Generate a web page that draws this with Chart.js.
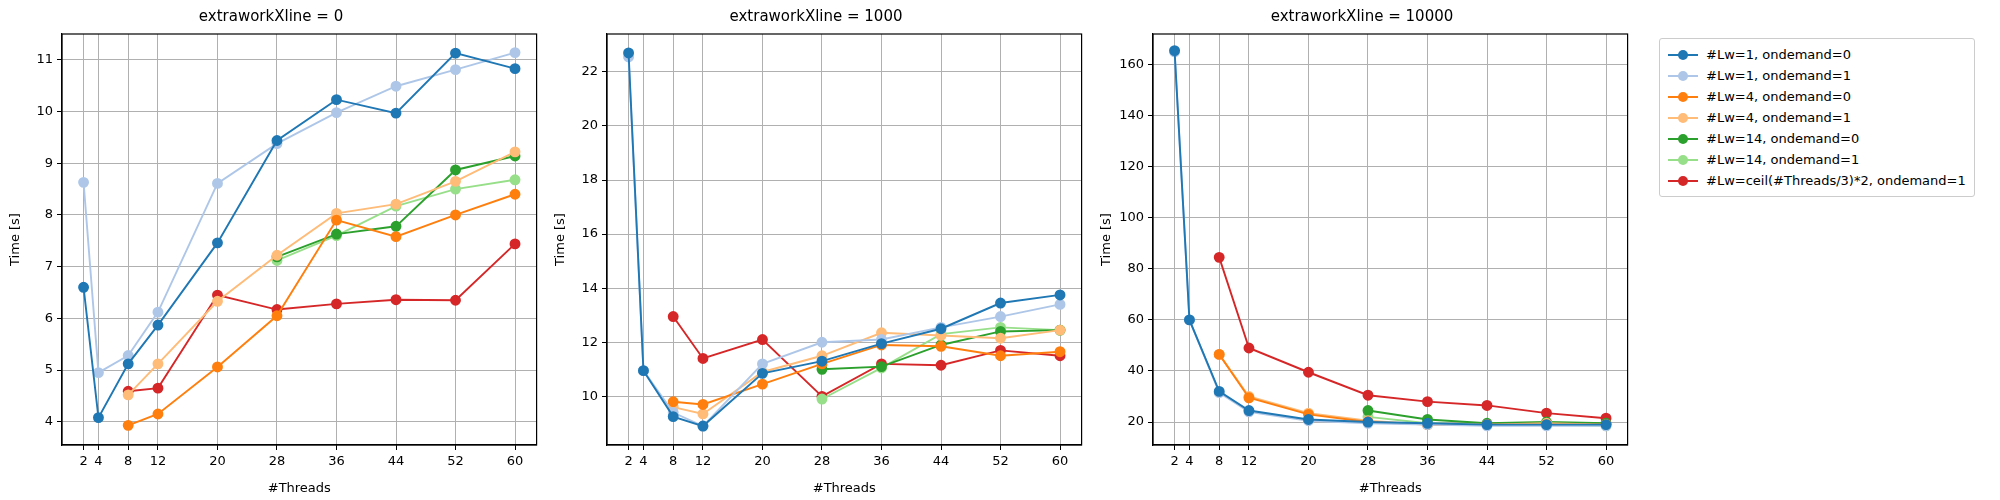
<!DOCTYPE html>
<html lang="en">
<head>
<meta charset="UTF-8">
<title>extraworkXline</title>
<script src="https://cdn.jsdelivr.net/npm/chart.js"></script>
<style>
  body { margin: 0; background: #fff; font-family: "DejaVu Sans", sans-serif; }
  #wrap { position: relative; width: 2000px; height: 500px; }
  .panel { position: absolute; top: 0; height: 500px; }
  #legend { position: absolute; left: 1659px; top: 38px; border: 1px solid #ccc; border-radius: 3px;
            padding: 5px 8px; font-size: 13px; background: #fff; }
  #legend div { display: flex; align-items: center; height: 21px; white-space: nowrap; }
  #legend span.sw { position: relative; width: 30px; height: 10px; margin-right: 8px; }
  #legend span.sw i { position: absolute; left: 0; right: 0; top: 4px; height: 2px; }
  #legend span.sw b { position: absolute; left: 10px; top: 0; width: 10px; height: 10px; border-radius: 50%; }
</style>
</head>
<body>
<div id="wrap">
  <div class="panel" id="p0"><canvas id="c0"></canvas></div>
  <div class="panel" id="p1"><canvas id="c1"></canvas></div>
  <div class="panel" id="p2"><canvas id="c2"></canvas></div>
  <div id="legend"></div>
</div>
<script>
const threads = [2, 4, 8, 12, 20, 28, 36, 44, 52, 60];
const seriesNames = ["#Lw=1, ondemand=0", "#Lw=1, ondemand=1", "#Lw=4, ondemand=0", "#Lw=4, ondemand=1",
                     "#Lw=14, ondemand=0", "#Lw=14, ondemand=1", "#Lw=ceil(#Threads/3)*2, ondemand=1"];
const seriesColors = ["#1f77b4", "#aec7e8", "#ff7f0e", "#ffbb78", "#2ca02c", "#98df8a", "#d62728"];
const panelTitles = ["extraworkXline = 0", "extraworkXline = 1000", "extraworkXline = 10000"];

// extraworkXline = 0
const p0_lw1_od0 = [6.6, 4.08, 5.12, 5.87, 7.46, 9.44, 10.23, 9.97, 11.13, 10.83];
const p0_lw1_od1 = [8.63, 4.95, 5.28, 6.12, 8.61, 9.38, 9.98, 10.49, 10.81, 11.14];
const p0_lw4_od0 = [null, null, 3.93, 4.15, 5.06, 6.05, 7.9, 7.58, 8.0, 8.4];
const p0_lw4_od1 = [null, null, 4.52, 5.12, 6.33, 7.22, 8.03, 8.21, 8.65, 9.22];
const p0_lw14_od0 = [null, null, null, null, null, 7.19, 7.63, 7.78, 8.87, 9.14];
const p0_lw14_od1 = [null, null, null, null, null, 7.12, 7.6, 8.17, 8.5, 8.68];
const p0_ceil_od1 = [null, null, 4.59, 4.65, 6.45, 6.17, 6.28, 6.36, 6.35, 7.44];

// extraworkXline = 1000
const p1_lw1_od0 = [22.7, 10.95, 9.25, 8.9, 10.85, 11.3, 11.95, 12.5, 13.45, 13.75];
const p1_lw1_od1 = [22.55, 10.95, 9.4, 8.9, 11.2, 12.0, 12.1, 12.55, 12.95, 13.4];
const p1_lw4_od0 = [null, null, 9.8, 9.7, 10.45, 11.2, 11.9, 11.85, 11.5, 11.65];
const p1_lw4_od1 = [null, null, 9.6, 9.35, 10.9, 11.5, 12.35, 12.25, 12.15, 12.45];
const p1_lw14_od0 = [null, null, null, null, null, 11.0, 11.1, 11.9, 12.4, 12.45];
const p1_lw14_od1 = [null, null, null, null, null, 9.9, 11.05, 12.3, 12.55, 12.45];
const p1_ceil_od1 = [null, null, 12.95, 11.4, 12.1, 10.0, 11.2, 11.15, 11.7, 11.5];

// extraworkXline = 10000
const p2_lw1_od0 = [165.5, 60, 32, 24.5, 21, 20, 19.5, 19, 19, 19];
const p2_lw1_od1 = [165, 60, 31.5, 24, 20.5, 19.5, 19, 18.5, 18.5, 18.5];
const p2_lw4_od0 = [null, null, 46.5, 29.5, 23, 20, 19, 19, 19, 19];
const p2_lw4_od1 = [null, null, 46.5, 30, 23.5, 20.5, 19, 19, 19.5, 19];
const p2_lw14_od0 = [null, null, null, null, null, 24.5, 21, 19.5, 20, 19.5];
const p2_lw14_od1 = [null, null, null, null, null, 22, 19.5, 19, 19, 18.5];
const p2_ceil_od1 = [null, null, 84.5, 49, 39.5, 30.5, 28, 26.5, 23.5, 21.5];

const panelSeries = [
  [p0_lw1_od0, p0_lw1_od1, p0_lw4_od0, p0_lw4_od1, p0_lw14_od0, p0_lw14_od1, p0_ceil_od1],
  [p1_lw1_od0, p1_lw1_od1, p1_lw4_od0, p1_lw4_od1, p1_lw14_od0, p1_lw14_od1, p1_ceil_od1],
  [p2_lw1_od0, p2_lw1_od1, p2_lw4_od0, p2_lw4_od1, p2_lw14_od0, p2_lw14_od1, p2_ceil_od1]
];
const yTicks = [
  [4, 5, 6, 7, 8, 9, 10, 11],
  [10, 12, 14, 16, 18, 20, 22],
  [20, 40, 60, 80, 100, 120, 140, 160]
];
const yRanges = [[3.55, 11.5], [8.2, 23.4], [11, 172]];

// layout of plot areas (px)
const plotLefts = [62, 607, 1153];
const plotW = 475, plotTop = 35, plotBottom = 443;
const axisW = 58;

Chart.defaults.font.family = "'DejaVu Sans', sans-serif";
Chart.defaults.font.size = 13;
Chart.defaults.color = "#000";

for (let p = 0; p < 3; p++) {
  const div = document.getElementById("p" + p);
  div.style.left = (plotLefts[p] - axisW) + "px";
  div.style.width = (plotW + axisW + 6) + "px";

  const datasets = panelSeries[p].map((vals, i) => ({
    label: seriesNames[i],
    data: vals.map((v, k) => ({ x: threads[k], y: v })),
    borderColor: seriesColors[i],
    backgroundColor: seriesColors[i],
    borderWidth: 1.9,
    pointRadius: 4.5,
    pointHoverRadius: 4.5,
    spanGaps: false
  }));

  new Chart(document.getElementById("c" + p), {
    type: "line",
    data: { datasets },
    options: {
      responsive: true,
      maintainAspectRatio: false,
      animation: false,
      layout: { padding: { top: 0, right: 5, bottom: 0, left: 0 } },
      plugins: {
        legend: { display: false },
        tooltip: { enabled: false },
        title: { display: true, text: panelTitles[p], font: { size: 15, weight: "normal" },
                 padding: { top: 8, bottom: 8 } }
      },
      scales: {
        x: {
          type: "linear", min: -0.9, max: 62.9,
          afterBuildTicks: ax => { ax.ticks = threads.map(v => ({ value: v })); },
          ticks: { autoSkip: false, maxRotation: 0, padding: 4 },
          grid: { color: "#b0b0b0", tickColor: "#000", tickLength: 5 },
          border: { color: "#000", width: 1.2 },
          title: { display: true, text: "#Threads", padding: { top: 2 } },
          afterFit: ax => { ax.height = 500 - plotBottom - 2; }
        },
        y: {
          type: "linear", min: yRanges[p][0], max: yRanges[p][1],
          afterBuildTicks: ax => { ax.ticks = yTicks[p].map(v => ({ value: v })); },
          ticks: { padding: 4 },
          grid: { color: "#b0b0b0", tickColor: "#000", tickLength: 5 },
          border: { color: "#000", width: 1.2 },
          title: { display: true, text: "Time [s]", padding: { bottom: 2 } },
          afterFit: ax => { ax.width = axisW; }
        }
      }
    },
    plugins: [{
      id: "frame",
      afterDraw(chart) {
        const a = chart.chartArea, c = chart.ctx;
        c.save(); c.strokeStyle = "#000"; c.lineWidth = 1.2;
        c.strokeRect(a.left, a.top, a.right - a.left, a.bottom - a.top);
        c.restore();
      }
    }]
  });
}

// legend
const leg = document.getElementById("legend");
seriesNames.forEach((n, i) => {
  const row = document.createElement("div");
  row.innerHTML = '<span class="sw"><i style="background:' + seriesColors[i] + '"></i><b style="background:' +
    seriesColors[i] + '"></b></span>' + n;
  leg.appendChild(row);
});
</script>
</body>
</html>
